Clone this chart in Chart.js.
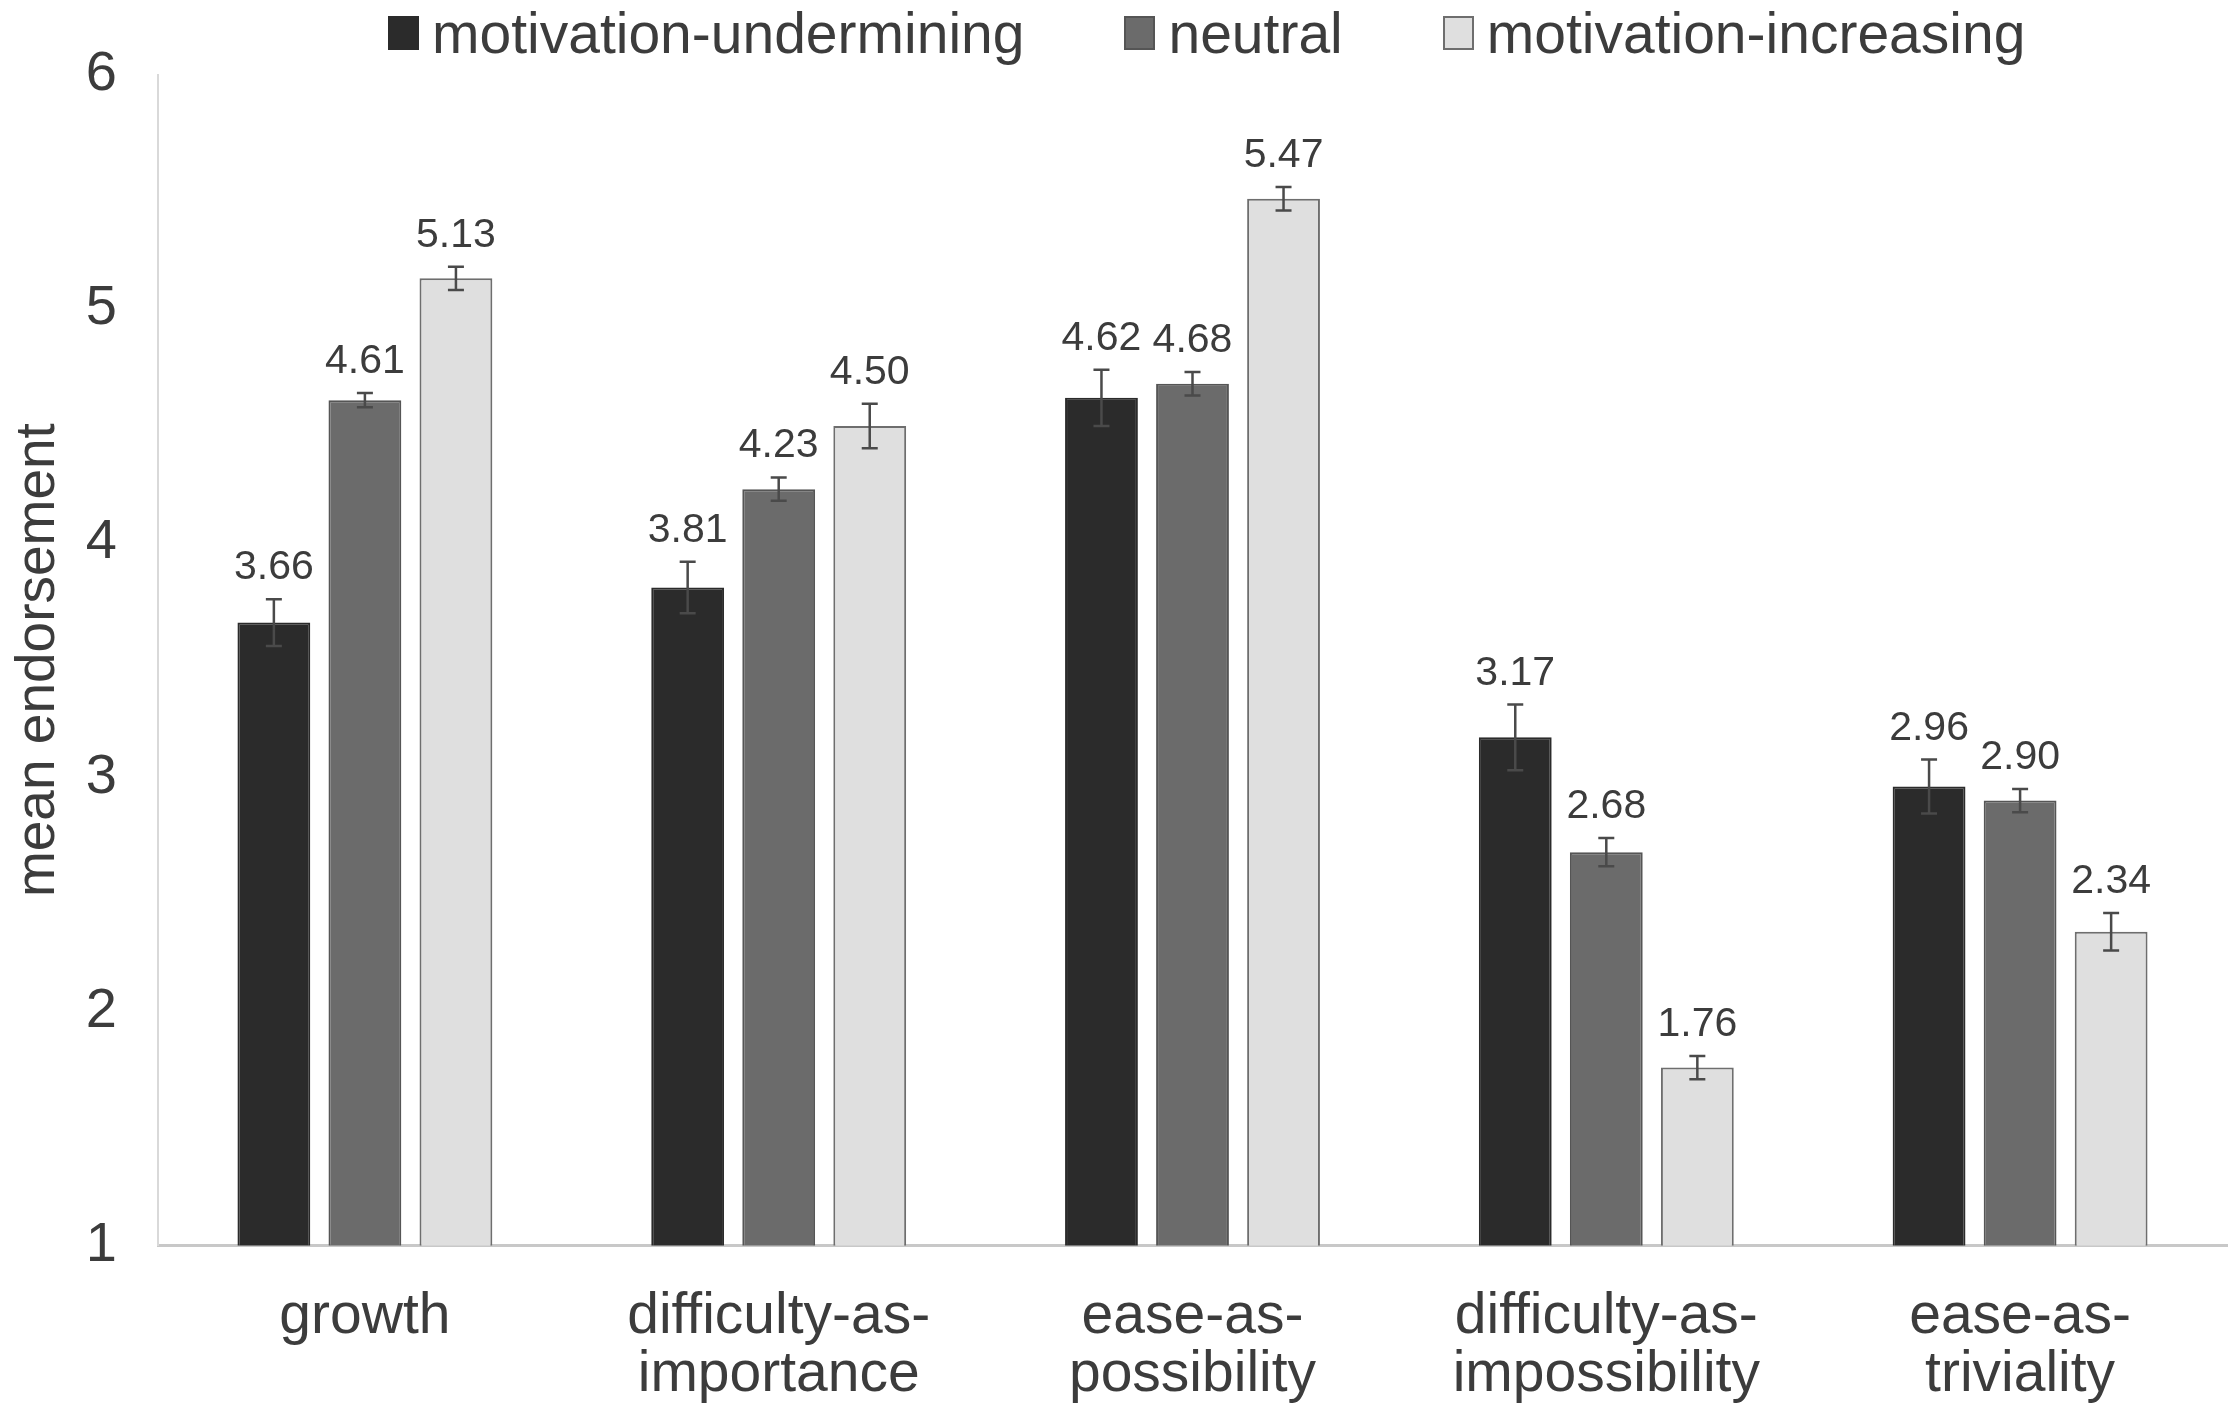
<!DOCTYPE html>
<html>
<head>
<meta charset="utf-8">
<script src="https://cdn.jsdelivr.net/npm/chart.js@4.4.1/dist/chart.umd.min.js"></script>
<style>
  body { margin: 0; background: #fff; }
  #wrap { position: relative; width: 2240px; height: 1421px; }
  #legend {
    position: absolute; top: 1px; left: 388px;
    display: flex; align-items: center;
    font-family: "Liberation Sans", Arial, sans-serif;
    font-size: 57px; line-height: 64px; color: #3c3c3c;
  }
  .item { display: flex; align-items: center; margin-right: 100px; }
  .box { width: 27px; height: 30px; border: 2px solid; margin-right: 13px; }
</style>
</head>
<body>
<div id="wrap">
  <canvas id="chart"></canvas>
  <div id="legend"></div>
</div>
<script>
// chart data
const categories = [['growth'], ['difficulty-as-', 'importance'], ['ease-as-', 'possibility'], ['difficulty-as-', 'impossibility'], ['ease-as-', 'triviality']];
const seriesNames = ['motivation-undermining', 'neutral', 'motivation-increasing'];
const undermining = [3.66, 3.81, 4.62, 3.17, 2.96];
const neutral = [4.61, 4.23, 4.68, 2.68, 2.90];
const increasing = [5.13, 4.50, 5.47, 1.76, 2.34];
const underminingErr = [0.10, 0.11, 0.12, 0.14, 0.115];
const neutralErr = [0.03, 0.05, 0.05, 0.06, 0.05];
const increasingErr = [0.05, 0.095, 0.05, 0.05, 0.08];
const yTicks = [1, 2, 3, 4, 5, 6];

const fillColors = ['#2b2b2b', '#6b6b6b', '#dfdfdf'];
const edgeColors = ['#2b2b2b', '#555555', '#6e6e6e'];
const textColor = '#3c3c3c';
const family = '"Liberation Sans", Arial, sans-serif';

// legend as html
const legendEl = document.getElementById('legend');
seriesNames.forEach(function (name, i) {
    const item = document.createElement('div');
    item.className = 'item';
    const box = document.createElement('span');
    box.className = 'box';
    box.style.background = fillColors[i];
    box.style.borderColor = edgeColors[i];
    const label = document.createElement('span');
    label.textContent = name;
    item.appendChild(box);
    item.appendChild(label);
    legendEl.appendChild(item);
});

// error bars + value labels on top of each bar
const errorBarsAndLabels = {
    id: 'errorBarsAndLabels',
    afterDatasetsDraw(chart) {
        const ctx = chart.ctx;
        const y = chart.scales.y;
        chart.data.datasets.forEach(function (ds, i) {
            const meta = chart.getDatasetMeta(i);
            meta.data.forEach(function (bar, j) {
                const v = ds.data[j];
                const e = ds.errors[j];
                const top = y.getPixelForValue(v + e);
                const bottom = y.getPixelForValue(v - e);
                ctx.save();
                ctx.strokeStyle = '#4a4a4a';
                ctx.lineWidth = 2.5;
                ctx.beginPath();
                ctx.moveTo(bar.x, top); ctx.lineTo(bar.x, bottom);
                ctx.moveTo(bar.x - 8, top); ctx.lineTo(bar.x + 8, top);
                ctx.moveTo(bar.x - 8, bottom); ctx.lineTo(bar.x + 8, bottom);
                ctx.stroke();
                ctx.fillStyle = textColor;
                ctx.font = '41px ' + family;
                ctx.textAlign = 'center';
                ctx.textBaseline = 'alphabetic';
                ctx.fillText(v.toFixed(2), bar.x, top - 20);
                ctx.restore();
            });
        });
    }
};

const values = [undermining, neutral, increasing];
const errors = [underminingErr, neutralErr, increasingErr];

new Chart(document.getElementById('chart'), {
    type: 'bar',
    data: {
        labels: categories,
        datasets: seriesNames.map(function (name, i) {
            return {
                label: name,
                data: values[i],
                errors: errors[i],
                backgroundColor: fillColors[i],
                borderColor: edgeColors[i],
                borderWidth: 2,
                categoryPercentage: 0.66,
                barPercentage: 0.8
            };
        })
    },
    options: {
        responsive: true,
        maintainAspectRatio: false,
        animation: false,
        layout: { padding: { top: 72, right: 13, bottom: -26, left: 0 } },
        plugins: {
            legend: { display: false },
            tooltip: { enabled: false }
        },
        scales: {
            x: {
                grid: { display: false, drawTicks: false },
                border: { color: '#c8c8c8', width: 3 },
                ticks: { padding: 42, color: textColor, font: { size: 57, family: family, lineHeight: 1.03 } }
            },
            y: {
                min: 1,
                max: 6,
                afterBuildTicks: function (scale) {
                    scale.ticks = yTicks.map(function (v) { return { value: v }; });
                },
                afterFit: function (scale) {
                    scale.width = 158; // axis line sits at x=158
                },
                grid: { display: false, drawTicks: false },
                border: { color: '#d9d9d9', width: 2 },
                ticks: { padding: 41, color: textColor, font: { size: 56, family: family } },
                title: {
                    display: true,
                    text: 'mean endorsement',
                    color: textColor,
                    font: { size: 55, family: family },
                    padding: { top: 6, bottom: 0 }
                }
            }
        }
    },
    plugins: [errorBarsAndLabels]
});
</script>
</body>
</html>
